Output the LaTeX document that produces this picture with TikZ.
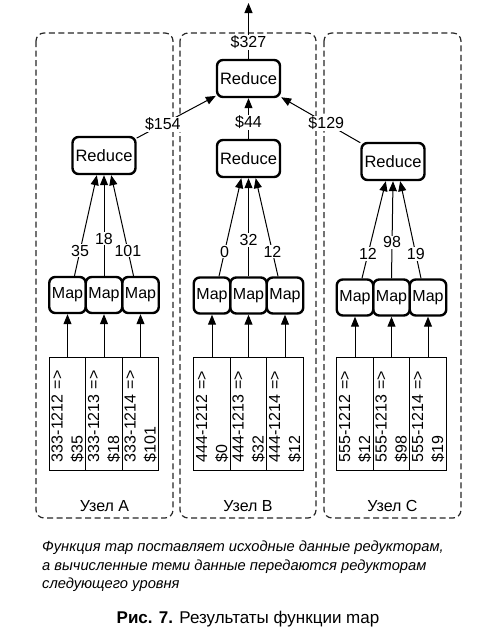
\documentclass[tikz,border=0pt]{standalone}
\usepackage{fontspec}
\setmainfont{Liberation Sans}
\usetikzlibrary{arrows.meta}

\begin{document}
\begin{tikzpicture}[x=1pt, y=-1pt,
    reduce/.style={rectangle, draw, rounded corners=6pt, line width=2.4pt, minimum width=63pt, minimum height=37pt, inner sep=0pt, font=\fontsize{16.5}{19}\selectfont},
    mapper/.style={rectangle, draw, rounded corners=6pt, line width=2.4pt, minimum width=36.5pt, minimum height=36pt, inner sep=0pt, font=\fontsize{16}{19}\selectfont},
    record/.style={rectangle, draw, line width=0.8pt, rotate=90, text width=97pt, align=left, inner xsep=8pt, inner ysep=0pt, minimum height=36.5pt, font=\fontsize{16}{20}\selectfont},
    val/.style={fill=white, inner sep=1pt, font=\fontsize{16}{19}\selectfont},
    cluster/.style={draw=black!85, line width=1.2pt, dash pattern=on 6pt off 3.5pt, rounded corners=8pt},
    flow/.style={-{Triangle[length=10pt, width=8pt]}, line width=1pt}]

    \useasboundingbox (0,0) rectangle (481,637);

    % the three machines
    \draw[cluster] (36,33) rectangle (173,518);
    \draw[cluster] (180,33) rectangle (316,518);
    \draw[cluster] (324,33) rectangle (461,518);
    \node[font=\fontsize{16}{18}\selectfont] (LA) at (104.5,506) {Узел A};
    \node[font=\fontsize{16}{18}\selectfont] (LB) at (248,506) {Узел B};
    \node[font=\fontsize{16}{18}\selectfont] (LC) at (392.5,506) {Узел C};

    \node[reduce] (R0) at (248.5,78.5) {Reduce};
    \node[reduce] (RA) at (104,155.5) {Reduce};
    \node[reduce] (RB) at (248.5,158.5) {Reduce};
    \node[reduce] (RC) at (393,161.5) {Reduce};
    \coordinate (out) at (248.5,3);

    \node[mapper] (MA1) at (67.5,295) {Map};
    \node[mapper] (MA2) at (104,295) {Map};
    \node[mapper] (MA3) at (140.5,295) {Map};
    \node[mapper] (MB1) at (212,295.5) {Map};
    \node[mapper] (MB2) at (248.5,295.5) {Map};
    \node[mapper] (MB3) at (285,295.5) {Map};
    \node[mapper] (MC1) at (355,297.5) {Map};
    \node[mapper] (MC2) at (391.5,297.5) {Map};
    \node[mapper] (MC3) at (428,297.5) {Map};

    \node[record] (DA1) at (67.5,413.5) {333-1212 =>\\ \$35};
    \node[record] (DA2) at (104,413.5) {333-1213 =>\\ \$18};
    \node[record] (DA3) at (140.5,413.5) {333-1214 =>\\ \$101};
    \node[record] (DB1) at (212,414) {444-1212 =>\\ \$0};
    \node[record] (DB2) at (248.5,414) {444-1213 =>\\ \$32};
    \node[record] (DB3) at (285,414) {444-1214 =>\\ \$12};
    \node[record] (DC1) at (355,414) {555-1212 =>\\ \$12};
    \node[record] (DC2) at (391.5,414) {555-1213 =>\\ \$98};
    \node[record] (DC3) at (428,414) {555-1214 =>\\ \$19};

    % records into mappers
    \draw[flow] (DA1.east) -- (MA1.south);
    \draw[flow] (DA2.east) -- (MA2.south);
    \draw[flow] (DA3.east) -- (MA3.south);
    \draw[flow] (DB1.east) -- (MB1.south);
    \draw[flow] (DB2.east) -- (MB2.south);
    \draw[flow] (DB3.east) -- (MB3.south);
    \draw[flow] (DC1.east) -- (MC1.south);
    \draw[flow] (DC2.east) -- (MC2.south);
    \draw[flow] (DC3.east) -- (MC3.south);

    % mappers into reducers
    \draw[flow] (MA1.70) -- node[val, pos=.25] {35} (RA.-110);
    \draw[flow] (MA2.north) -- node[val, pos=.37] {18} (RA.south);
    \draw[flow] (MA3.110) -- node[val, pos=.25] {101} (RA.-70);
    \draw[flow] (MB1.70) -- node[val, pos=.25] {0} (RB.-110);
    \draw[flow] (MB2.north) -- node[val, pos=.37] {32} (RB.south);
    \draw[flow] (MB3.110) -- node[val, pos=.25] {12} (RB.-70);
    \draw[flow] (MC1.70) -- node[val, pos=.25] {12} (RC.-110);
    \draw[flow] (MC2.north) -- node[val, pos=.37] {98} (RC.south);
    \draw[flow] (MC3.110) -- node[val, pos=.25] {19} (RC.-70);

    % reducers into the last reducer
    \draw[flow] (RA) -- node[val, pos=.33] {\$154} (R0);
    \draw[flow] (RB) -- node[val, pos=.4] {\$44} (R0);
    \draw[flow] (RC) -- node[val, pos=.43] {\$129} (R0);
    \draw[flow] (R0) -- node[val, pos=.3] {\$327} (out);

    \node[anchor=north west, align=left, inner sep=0pt, font=\itshape\fontsize{14.7}{18.5}\selectfont] (note) at (42,541)
        {Функция map поставляет исходные данные редукторам,\\ а вычисленные теми данные передаются редукторам\\ следующего уровня};
    \node[font=\fontsize{17}{19}\selectfont] (cap) at (248,619) {\textbf{Рис. 7.} Результаты функции map};
\end{tikzpicture}
\end{document}
